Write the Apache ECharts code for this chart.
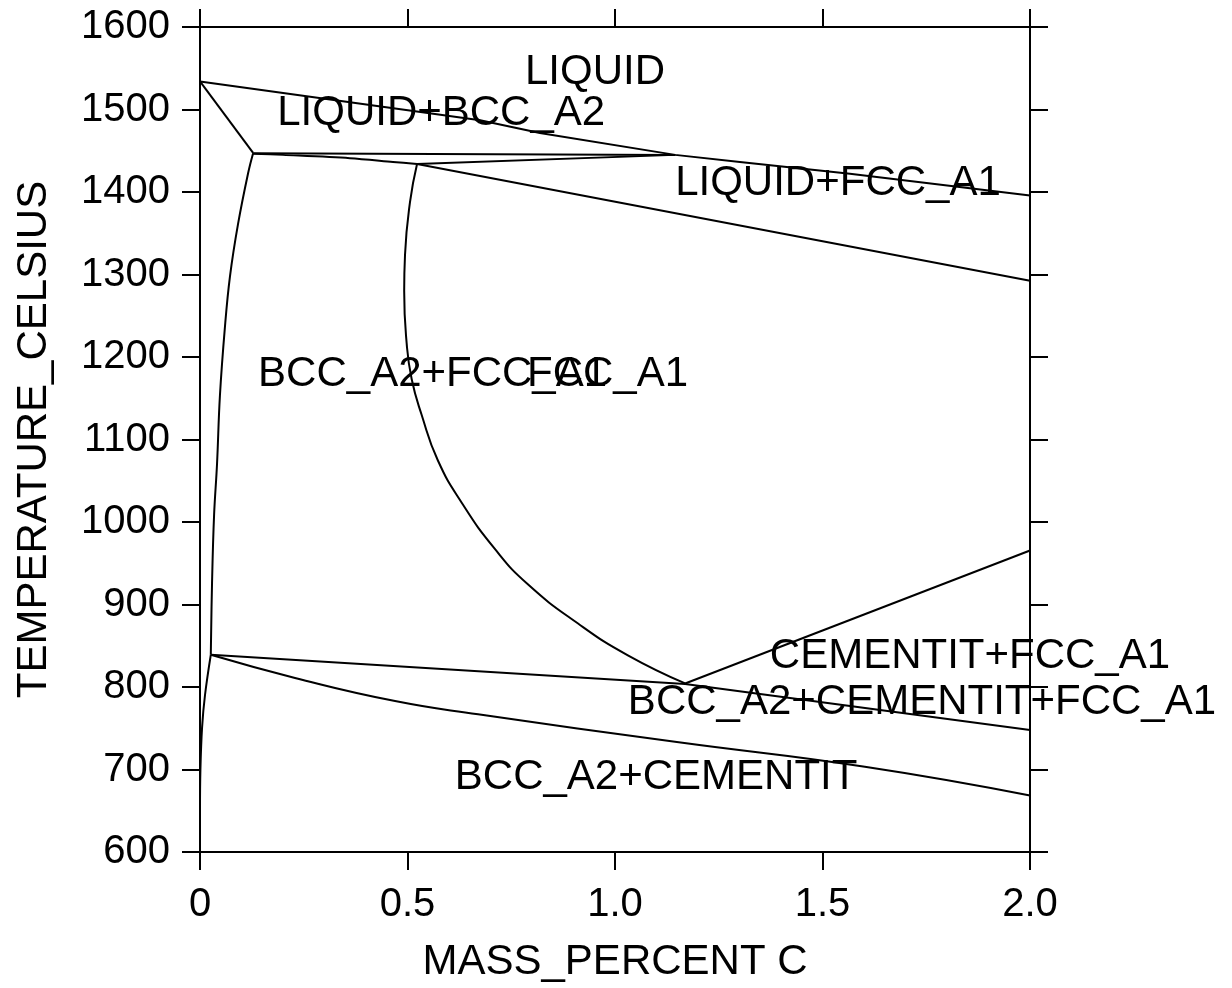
<!DOCTYPE html>
<html>
<head>
<meta charset="utf-8">
<script src="https://cdn.jsdelivr.net/npm/echarts@6/dist/echarts.min.js"></script>
<style>
html,body{margin:0;padding:0;background:#fff;}
#chart{width:1232px;height:988px;}
</style>
</head>
<body>
<div id="chart"></div>
<script>
// Axis ticks
var xTicks = [0, 0.5, 1.0, 1.5, 2.0];
var yTicks = [600, 700, 800, 900, 1000, 1100, 1200, 1300, 1400, 1500, 1600];

// Phase boundary curves: [mass % C, temperature °C]
var liquidus = [[0, 1534], [0.675, 1487], [0.819, 1471.4], [1.145, 1445], [1.301, 1436.5], [1.566, 1422], [2.0, 1395.7]];
var bccSolidus = [[0, 1534], [0.128, 1447.4]];
var peritecticTop = [[0.128, 1447], [1.145, 1445]];
var peritecticLow = [[0.128, 1446.5], [0.2, 1445], [0.361, 1441], [0.465, 1436.5], [0.523, 1434]];
var peritecticRight = [[0.523, 1434], [1.145, 1445]];
var fccSolidus = [[0.523, 1434], [2.0, 1292.3]];
var bccFccBoundary = [[0.128, 1447], [0.116, 1423], [0.0916, 1361], [0.0723, 1298], [0.060, 1236], [0.048, 1153], [0.041, 1070], [0.034, 1009], [0.029, 926], [0.026, 839]];
var bccSolvus = [[0.026, 839], [0.012, 790], [0.005, 751], [0.001, 700], [0, 650]];
var fccBccBoundary = [[0.523, 1434], [0.506, 1387.7], [0.494, 1323.6], [0.492, 1280.3], [0.498, 1216.6], [0.510, 1173.3], [0.534, 1130.0], [0.573, 1074.8], [0.631, 1023.1], [0.711, 967.1], [0.790, 924.5], [0.911, 876.9], [1.031, 838.3], [1.169, 804.3]];
var acmLine = [[1.169, 804.3], [2.0, 965.4]];
var eutectoidUpper = [[0.026, 839], [1.169, 803.5], [2.0, 747.8]];
var eutectoidLower = [[0.026, 839], [0.229, 811], [0.47, 783], [0.67, 767], [1.149, 733.4], [1.602, 703.4], [2.0, 668.5]];

// Region labels
var regionNames = ['LIQUID', 'LIQUID+BCC_A2', 'LIQUID+FCC_A1', 'BCC_A2+FCC_A1', 'FCC_A1', 'CEMENTIT+FCC_A1', 'BCC_A2+CEMENTIT+FCC_A1', 'BCC_A2+CEMENTIT'];
var regionX = [0.783, 0.186, 1.145, 0.140, 0.788, 1.373, 1.031, 0.614];
var regionT = [1545, 1495, 1411, 1179, 1179, 837, 781.5, 690];

var FONT = '"Liberation Sans", Arial, Helvetica, sans-serif';
var chart = echarts.init(document.getElementById('chart'), null, {renderer: 'canvas'});

function curve(data, smooth) {
  return {
    type: 'line', data: data, showSymbol: false, symbol: 'none',
    smooth: smooth || false, clip: true,
    lineStyle: {color: '#000', width: 2}, silent: true, z: 3
  };
}

var axisLineStyle = {show: true, onZero: false, lineStyle: {color: '#000', width: 2}};
var tickStyle = {show: true, inside: false, length: 18, lineStyle: {color: '#000', width: 2}};

var labelData = regionNames.map(function (n, i) { return {name: n, value: [regionX[i], regionT[i]]}; });

var option = {
  animation: false,
  backgroundColor: '#fff',
  grid: {left: 200, right: 202, top: 27, bottom: 129, containLabel: false},
  xAxis: [{
    type: 'value', position: 'bottom', min: xTicks[0], max: xTicks[xTicks.length - 1], interval: 0.5,
    axisLine: axisLineStyle, axisTick: tickStyle, splitLine: {show: false},
    axisLabel: {color: '#000', fontSize: 40, fontFamily: FONT, margin: 33,
      formatter: function (v) { return v === 0 ? '0' : v.toFixed(1); }},
    name: 'MASS_PERCENT C', nameLocation: 'middle', nameGap: 89,
    nameTextStyle: {color: '#000', fontSize: 42, fontFamily: FONT}
  }, {
    type: 'value', position: 'top', min: xTicks[0], max: xTicks[xTicks.length - 1], interval: 0.5,
    axisLine: axisLineStyle, axisTick: tickStyle, splitLine: {show: false},
    axisLabel: {show: false}
  }],
  yAxis: [{
    type: 'value', position: 'left', min: yTicks[0], max: yTicks[yTicks.length - 1], interval: 100,
    axisLine: axisLineStyle, axisTick: tickStyle, splitLine: {show: false},
    axisLabel: {color: '#000', fontSize: 40, fontFamily: FONT, margin: 30,
      formatter: function (v) { return String(v); }},
    name: 'TEMPERATURE_CELSIUS', nameLocation: 'middle', nameGap: 145, nameRotate: 90,
    nameTextStyle: {color: '#000', fontSize: 42, fontFamily: FONT}
  }, {
    type: 'value', position: 'right', min: yTicks[0], max: yTicks[yTicks.length - 1], interval: 100,
    axisLine: axisLineStyle, axisTick: tickStyle, splitLine: {show: false},
    axisLabel: {show: false}
  }],
  series: [
    curve(liquidus, false),
    curve(bccSolidus, false),
    curve(peritecticTop, false),
    curve(peritecticLow, 0.3),
    curve(peritecticRight, false),
    curve(fccSolidus, false),
    curve(bccFccBoundary, 0.4),
    curve(bccSolvus, 0.4),
    curve(fccBccBoundary, 0.5),
    curve(acmLine, false),
    curve(eutectoidUpper, false),
    curve(eutectoidLower, 0.5),
    {
      type: 'scatter', data: labelData, symbolSize: 0, clip: false, silent: true, z: 5,
      itemStyle: {opacity: 1, color: '#000'},
      label: {show: true, position: [0, 0], align: 'left', verticalAlign: 'middle',
        color: '#000', opacity: 1, fontSize: 42, fontFamily: FONT,
        formatter: function (p) { return p.name; }}
    }
  ]
};
chart.setOption(option);
</script>
</body>
</html>
